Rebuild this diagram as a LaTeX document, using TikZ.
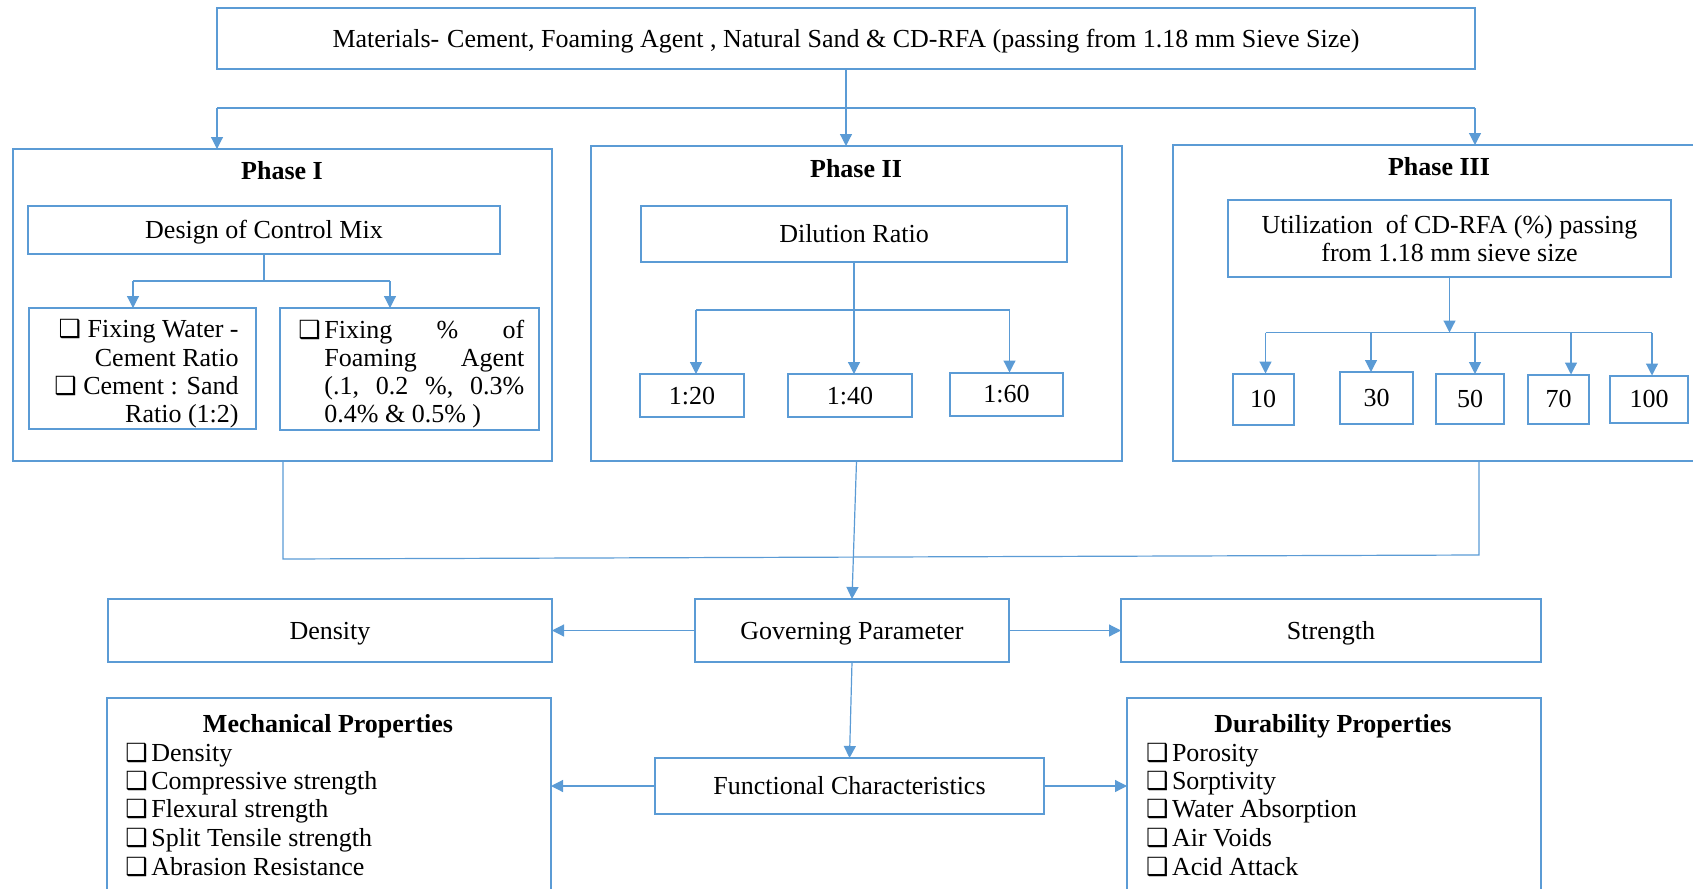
\documentclass[tikz,border=0pt]{standalone}
\usepackage{fontspec}
\setmainfont{Liberation Serif}
\newfontfamily\dejavu{DejaVu Sans}
\usetikzlibrary{arrows.meta}
\definecolor{ob}{RGB}{91,155,213}
\newcommand{\chk}{{\dejavu\fontsize{12.5}{12.5}\selectfont ❑}}
\newcommand{\chkb}{\makebox[13pt][l]{\chk}}
\tikzset{
  box/.style={draw=ob, line width=1pt, inner sep=0pt, outer sep=0pt, align=center},
  low/.style={text height=1.05em, text depth=0.2em},
  con/.style={draw=ob, line width=0.6pt},
  arr/.style={con, -{Triangle[length=6pt,width=6pt]}},
  ttl/.style={inner sep=0pt, font=\fontsize{13}{14.2}\selectfont\bfseries},
  txt/.style={inner sep=0pt},
}
\begin{document}
\begin{tikzpicture}[x=0.5pt,y=-0.5pt,font=\fontsize{13}{14.2}\selectfont]
\useasboundingbox (0,0) rectangle (1693,889);
% top
\node[box, low, minimum width=629pt, minimum height=30.5pt] (top) at (846,38.5)
  {Materials-\hspace{0.3em}Cement, Foaming Agent , Natural Sand \& CD-RFA (passing from 1.18 mm Sieve Size)};
% phase boxes
\node[box, minimum width=269.5pt, minimum height=156pt] (p1) at (282.5,305) {};
\node[box, minimum width=265.5pt, minimum height=157.5pt] (p2) at (856.5,303.5) {};
\node[box, minimum width=273.5pt, minimum height=158pt] (p3) at (1446.5,303) {};
\node[ttl] (t1) at (282,171) {Phase I};
\node[ttl] (t2) at (856,169) {Phase II};
\node[ttl] (t3) at (1439,167) {Phase III};
% top connectors
\coordinate (busL) at (217,108);
\coordinate (busR) at (1475,108);
\draw[con] (busL) -- (busR);
\draw[arr] (busL) -- (busL |- p1.north);
\draw[arr] (busR) -- (busR |- p3.north);
\draw[arr] (top.south) -- (top.south |- p2.north);
% phase I
\node[box, low, minimum width=236pt, minimum height=24pt] (dcm) at (264,230) {Design of Control Mix};
\node[box, minimum width=113.5pt, minimum height=60.5pt] (sL) at (142.5,368.5) {};
\node[box, minimum width=129.5pt, minimum height=61pt] (sR) at (409.5,369) {};
\coordinate (s1L) at (133,281);
\coordinate (s1R) at (390,281);
\draw[con] (dcm.south) -- (dcm.south |- s1L);
\draw[con] (s1L) -- (s1R);
\draw[arr] (s1L) -- (s1L |- sL.north);
\draw[arr] (s1R) -- (s1R |- sR.north);
\node[txt, anchor=base east] (l1) at (239,337) {\chk\ Fixing Water -};
\node[txt, anchor=base east] (l2) at (239,366) {Cement Ratio};
\node[txt, anchor=base east] (l3) at (239,394) {\chk\ Cement : Sand};
\node[txt, anchor=base east] (l4) at (239,422) {Ratio (1:2)};
\node[txt, anchor=base west] (r1) at (298,338) {\chkb\makebox[100pt]{Fixing\hfill\%\hfill of}};
\node[txt, anchor=base west] (r2) at (324,366) {\makebox[100pt]{Foaming\hfill Agent}};
\node[txt, anchor=base west] (r3) at (324,394) {\makebox[100pt]{(.1,\hfill 0.2\hfill \%,\hfill 0.3\%}};
\node[txt, anchor=base west] (r4) at (324,422) {0.4\% \& 0.5\% )};
% phase II
\node[box, low, minimum width=213pt, minimum height=28pt] (dil) at (854,234) {Dilution Ratio};
\node[box, low, minimum width=52pt, minimum height=21.5pt] (r20) at (692,395.5) {1:20};
\node[box, low, minimum width=62pt, minimum height=21.5pt] (r40) at (850,395.5) {1:40};
\node[box, low, minimum width=56.5pt, minimum height=21.5pt] (r60) at (1006.5,394) {1:60};
\coordinate (d2L) at (696,310);
\coordinate (d2R) at (1009.5,310);
\draw[con] (d2L) -- (d2R);
\draw[arr] (d2L) -- (d2L |- r20.north);
\draw[arr] (d2R) -- (d2R |- r60.north);
\draw[arr] (dil.south) -- (dil.south |- r40.north);
% phase III
\node[box, minimum width=221.5pt, minimum height=38.5pt] (util) at (1449.5,238.5)
  {Utilization\hspace{0.5em}of CD-RFA (\%) passing\\from 1.18 mm sieve size};
\node[box, low, minimum width=30.5pt, minimum height=25.5pt] (b10) at (1263,399) {10};
\node[box, low, minimum width=36.5pt, minimum height=26pt] (b30) at (1376.5,398) {30};
\node[box, low, minimum width=34pt, minimum height=25pt] (b50) at (1470,399) {50};
\node[box, low, minimum width=30.5pt, minimum height=24.5pt] (b70) at (1558.5,399) {70};
\node[box, low, minimum width=39pt, minimum height=23.5pt] (b100) at (1649,399) {100};
\coordinate (u1) at (1265.5,332.5);
\coordinate (u2) at (1371,332.5);
\coordinate (u3) at (1475,332.5);
\coordinate (u4) at (1571,332.5);
\coordinate (u5) at (1652,332.5);
\draw[con] (u1) -- (u5);
\draw[arr] (util.south) -- (util.south |- u1);
\draw[arr] (u1) -- (u1 |- b10.north);
\draw[arr] (u2) -- (u2 |- b30.north);
\draw[arr] (u3) -- (u3 |- b50.north);
\draw[arr] (u4) -- (u4 |- b70.north);
\draw[arr] (u5) -- (u5 |- b100.north);
% lower part
\node[box, low, minimum width=157pt, minimum height=31.5pt] (gp) at (852,630.5) {Governing Parameter};
\node[box, low, minimum width=222pt, minimum height=31.5pt] (den) at (330,630.5) {Density};
\node[box, low, minimum width=210pt, minimum height=31.5pt] (str) at (1331,630.5) {Strength};
\node[box, low, minimum width=194.5pt, minimum height=28pt] (fc) at (849.5,786) {Functional Characteristics};
\node[box, minimum width=222pt, minimum height=106.25pt] (mech) at (329,803.75) {};
\node[box, minimum width=207pt, minimum height=106.25pt] (dur) at (1334,803.75) {};
\coordinate (j1) at (283,559);
\coordinate (j3) at (1479,555);
\draw[con] (j1 |- p1.south) -- (j1) -- (j3) -- (j3 |- p3.south);
\draw[arr] (p2.south) -- (gp.north);
\draw[arr] (gp.west) -- (den.east);
\draw[arr] (gp.east) -- (str.west);
\draw[arr] (gp.south) -- (fc.north);
\draw[arr] (fc.west) -- (fc.west -| mech.east);
\draw[arr] (fc.east) -- (fc.east -| dur.west);
% mechanical list
\node[ttl] (mt) at (328,726) {Mechanical Properties};
\node[txt, anchor=base west] (m1) at (125,761.5) {\chkb Density};
\node[txt, anchor=base west] (m2) at (125,789.6) {\chkb Compressive strength};
\node[txt, anchor=base west] (m3) at (125,817.7) {\chkb Flexural strength};
\node[txt, anchor=base west] (m4) at (125,846.8) {\chkb Split Tensile strength};
\node[txt, anchor=base west] (m5) at (125,875) {\chkb Abrasion Resistance};
% durability list
\node[ttl] (dt) at (1333,726) {Durability Properties};
\node[txt, anchor=base west] (d1) at (1145.6,761.5) {\chkb Porosity};
\node[txt, anchor=base west] (d2) at (1145.6,789.6) {\chkb Sorptivity};
\node[txt, anchor=base west] (d3) at (1145.6,817.7) {\chkb Water Absorption};
\node[txt, anchor=base west] (d4) at (1145.6,846.8) {\chkb Air Voids};
\node[txt, anchor=base west] (d5) at (1145.6,875) {\chkb Acid Attack};
\end{tikzpicture}
\end{document}
